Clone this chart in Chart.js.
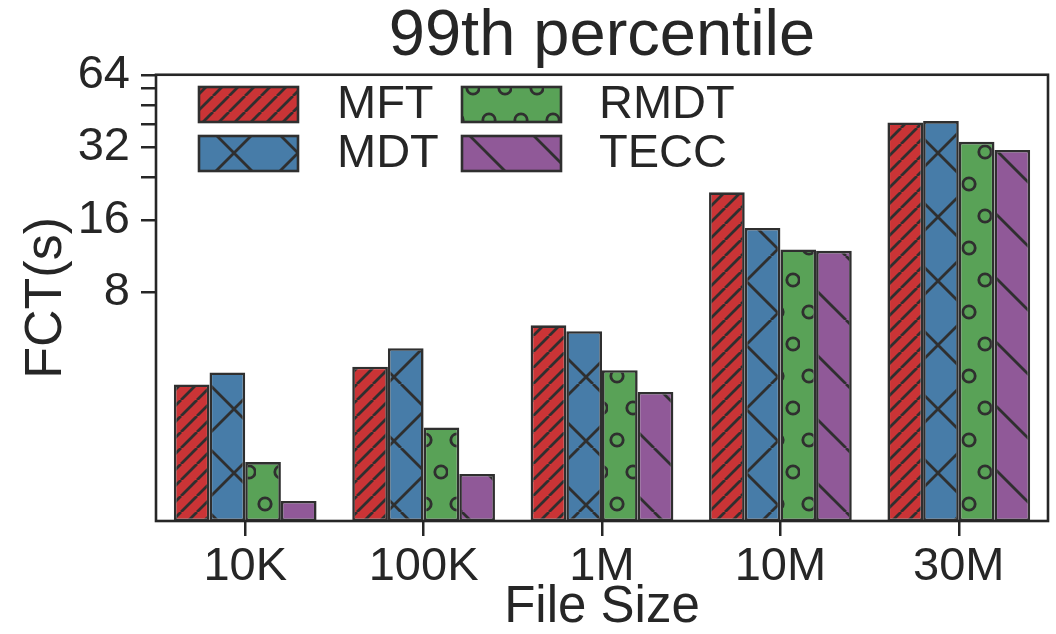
<!DOCTYPE html>
<html><head><meta charset="utf-8">
<script src="https://cdn.jsdelivr.net/npm/chart.js@4.4.0/dist/chart.umd.min.js"></script>
<style>html,body{margin:0;padding:0;background:#fff;} #wrap{width:1056px;height:634px;}</style>
</head><body><div id="wrap"><canvas id="c" width="1056" height="634"></canvas></div>
<script>
const categories = ['10K', '100K', '1M', '10M', '30M'];
const seriesNames = ['MFT', 'MDT', 'RMDT', 'TECC'];
const mftValues = [3.32, 3.93, 5.84, 20.8, 40.6];
const mdtValues = [3.72, 4.69, 5.52, 14.8, 41.1];
const rmdtValues = [1.58, 2.2, 3.8, 12.05, 33.7];
const teccValues = [1.09, 1.41, 3.09, 11.9, 31.2];
const yTickValues = [8, 16, 24, 32, 40, 48, 56, 64];
const yTickLabels = {8: '8', 16: '16', 32: '32', 64: '64'};

const FONT = "'Liberation Sans', Arial, Helvetica, sans-serif";
const TXT = '#262626';
const EDGE = '#2f2f2f';
const COLORS = ['#CA3436', '#477CA8', '#59A257', '#905998'];

function tile(w, h, color, draw) {
  const c = document.createElement('canvas');
  c.width = w; c.height = h;
  const g = c.getContext('2d');
  g.fillStyle = color; g.fillRect(0, 0, w, h);
  g.strokeStyle = EDGE; g.lineWidth = 2.8; g.lineCap = 'butt';
  draw(g, w, h);
  return document.getElementById('c').getContext('2d').createPattern(c, 'repeat');
}
const patMFT = tile(16, 16, COLORS[0], (g) => {
  const c0 = 5;
  g.beginPath();
  for (let n = -2; n <= 3; n++) { g.moveTo(c0 + 16 * n, 0); g.lineTo(c0 + 16 * n - 16, 16); }
  g.stroke();
});
const patMDT = tile(64, 64, COLORS[1], (g) => {
  g.beginPath();
  for (let n = -2; n <= 2; n++) {
    g.moveTo(3 + 64 * n, 0); g.lineTo(3 + 64 * n - 64, 64);
    g.moveTo(17 + 64 * n, 0); g.lineTo(17 + 64 * n + 64, 64);
  }
  g.stroke();
});
const patRMDT = tile(32, 64, COLORS[2], (g) => {
  g.beginPath(); g.arc(25, 24, 6.2, 0, Math.PI * 2); g.stroke();
  g.beginPath(); g.arc(9, 56, 6.2, 0, Math.PI * 2); g.stroke();
});
const patTECC = tile(64, 64, COLORS[3], (g) => {
  g.beginPath();
  for (let n = -2; n <= 2; n++) { g.moveTo(14 + 64 * n, 0); g.lineTo(14 + 64 * n + 64, 64); }
  g.stroke();
});
const patterns = [patMFT, patMDT, patRMDT, patTECC];
const seriesValues = [mftValues, mdtValues, rmdtValues, teccValues];

const spinePlugin = {
  id: 'spines',
  afterDatasetsDraw(chart) {
    const {ctx, chartArea: a} = chart;
    ctx.save();
    ctx.strokeStyle = TXT; ctx.lineWidth = 2.6;
    ctx.strokeRect(a.left, a.top, a.right - a.left, a.bottom - a.top);
    ctx.restore();
  }
};

const legendPlugin = {
  id: 'innerLegend',
  afterDraw(chart) {
    const {ctx} = chart;
    // column-major order like the original (2 columns)
    const boxX = [199, 462], boxY = [87, 136], textX = [337, 599];
    const bw = 99, bh = 35;
    ctx.save();
    ctx.font = `47px ${FONT}`;
    ctx.textBaseline = 'middle';
    ctx.fillStyle = TXT;
    chart.data.datasets.forEach((ds, i) => {
      const col = Math.floor(i / 2), row = i % 2;
      const x = boxX[col], y = boxY[row];
      ctx.fillStyle = ds.backgroundColor;
      ctx.fillRect(x, y, bw, bh);
      ctx.strokeStyle = EDGE; ctx.lineWidth = 2.6;
      ctx.strokeRect(x, y, bw, bh);
      ctx.fillStyle = TXT;
      ctx.fillText(ds.label, textX[col], y + bh / 2 + 1);
    });
    ctx.restore();
  }
};

new Chart(document.getElementById('c'), {
  type: 'bar',
  data: {
    labels: categories,
    datasets: seriesNames.map((name, i) => ({
      label: name,
      data: seriesValues[i],
      backgroundColor: patterns[i],
      borderColor: EDGE,
      borderWidth: 2.6,
      borderSkipped: false,
      barPercentage: 1.0,
      categoryPercentage: 0.8
    }))
  },
  options: {
    responsive: false,
    animation: false,
    devicePixelRatio: 1,
    layout: {padding: {left: 0, right: 8, top: 0, bottom: 0}},
    plugins: {
      legend: {display: false},
      tooltip: {enabled: false},
      title: {
        display: true, text: '99th percentile', color: TXT, fullSize: false,
        font: {family: FONT, size: 65, weight: 'normal', lineHeight: 1.15},
        padding: {top: 0, bottom: 0}
      }
    },
    scales: {
      x: {
        type: 'category', offset: true,
        grid: {display: true, offset: false, drawOnChartArea: false, drawTicks: true, tickLength: 15, lineWidth: 2.5, tickWidth: 2.5, tickColor: TXT, color: TXT},
        border: {display: false},
        ticks: {color: TXT, font: {family: FONT, size: 47}, padding: 3, maxRotation: 0, autoSkip: false},
        title: {display: true, text: 'File Size', color: TXT, font: {family: FONT, size: 51, lineHeight: 1}, padding: {top: 0, bottom: 1}},
        afterFit(s) { s.height = 113; }
      },
      y: {
        type: 'logarithmic', min: 0.9, max: 64, bounds: 'data',
        afterBuildTicks(s) { s.ticks = yTickValues.map(v => ({value: v})); },
        grid: {display: true, drawOnChartArea: false, drawTicks: true, tickLength: 15, lineWidth: 2.5, tickWidth: 2.5, tickColor: TXT, color: TXT},
        border: {display: false},
        ticks: {color: TXT, font: {family: FONT, size: 47}, padding: 11, autoSkip: false, callback: (v) => yTickLabels[v] || ''},
        title: {display: true, text: 'FCT(s)', color: TXT, font: {family: FONT, size: 52, lineHeight: 1}, padding: {top: 21, bottom: 0}},
        afterFit(s) { s.width = 156; }
      }
    }
  },
  plugins: [spinePlugin, legendPlugin]
});
</script>
</body></html>
